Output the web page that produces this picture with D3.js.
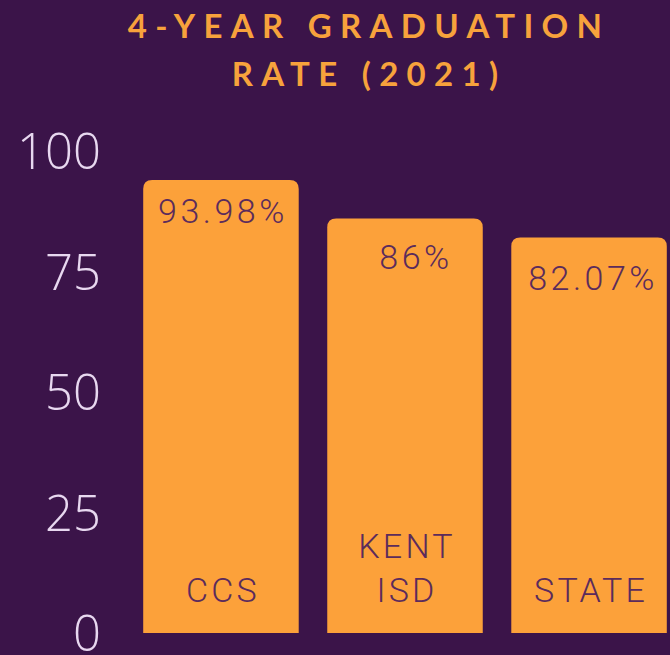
<!DOCTYPE html>
<html><head><meta charset="utf-8">
<script src="https://cdn.jsdelivr.net/npm/d3@7"></script>
<style>
html,body{margin:0;padding:0;background:#3b1449;}
svg{display:block;}
</style></head>
<body>
<svg id="chart" width="670" height="655"></svg>
<script>
const categories = [["CCS"], ["KENT", "ISD"], ["STATE"]];
const values = [93.98, 86, 82.07];
const valueLabels = ["93.98%", "86%", "82.07%"];
const tickValues = [0, 25, 50, 75, 100];
const titleLines = ["4-YEAR GRADUATION", "RATE (2021)"];

// layout-only offsets for the value labels (pixels, relative to bar top / centre)
const labelLayout = { dy: [43, 51, 53], dx: [0, 9, 2] };

const W = 670, H = 655;
const svg = d3.select("#chart");
svg.append("rect").attr("width", W).attr("height", H).attr("fill", "#3b1449");

const x = d3.scaleBand().domain(d3.range(values.length)).range([134, 676]).paddingInner(0.155).paddingOuter(0.05);
const y = d3.scaleLinear().domain([0, 100]).range([633, 151]);

// title
svg.append("g").selectAll("text").data(titleLines).join("text")
  .attr("x", 369).attr("y", (d, i) => 38 + i * 48)
  .attr("text-anchor", "middle")
  .attr("font-family", "Lato, 'Open Sans', sans-serif")
  .attr("font-weight", 700).attr("font-size", 33)
  .attr("letter-spacing", 8.3)
  .attr("fill", "#f7a23c")
  .text(d => d);

// axis
const axis = d3.axisLeft(y).tickValues(tickValues).tickSize(0).tickPadding(0);
const ag = svg.append("g").attr("transform", "translate(101,0)").call(axis);
ag.select(".domain").remove();
ag.selectAll("text")
  .attr("font-family", "'Open Sans', sans-serif")
  .attr("font-weight", 300).attr("font-size", 49)
  .attr("fill", "#e8d8f0").attr("dy", "0.36em");

// bars with rounded top
const r = 9;
function barPath(i) {
  const x0 = x(i), x1 = x(i) + x.bandwidth(), y0 = y(values[i]), yb = y(0);
  return `M${x0},${yb}V${y0 + r}Q${x0},${y0} ${x0 + r},${y0}H${x1 - r}Q${x1},${y0} ${x1},${y0 + r}V${yb}Z`;
}
svg.append("g").selectAll("path").data(values).join("path")
  .attr("d", (d, i) => barPath(i))
  .attr("fill", "#fca13a");

const labelFont = "Roboto, 'Open Sans', sans-serif";
// value labels
svg.append("g").selectAll("text").data(valueLabels).join("text")
  .attr("x", (d, i) => x(i) + x.bandwidth() / 2 + labelLayout.dx[i] + 2)
  .attr("y", (d, i) => y(values[i]) + labelLayout.dy[i])
  .attr("text-anchor", "middle")
  .attr("font-family", labelFont).attr("font-weight", 300)
  .attr("font-size", 34).attr("letter-spacing", 3.5)
  .attr("fill", "#5b2b5c")
  .text(d => d);

// category labels
const cg = svg.append("g");
categories.forEach((lines, i) => {
  lines.forEach((ln, j) => {
    cg.append("text")
      .attr("x", x(i) + x.bandwidth() / 2 + 2)
      .attr("y", 602 - (lines.length - 1 - j) * 44)
      .attr("text-anchor", "middle")
      .attr("font-family", labelFont).attr("font-weight", 300)
      .attr("font-size", 34).attr("letter-spacing", 3.2)
      .attr("fill", "#5b2b5c")
      .text(ln);
  });
});
</script>
</body></html>
